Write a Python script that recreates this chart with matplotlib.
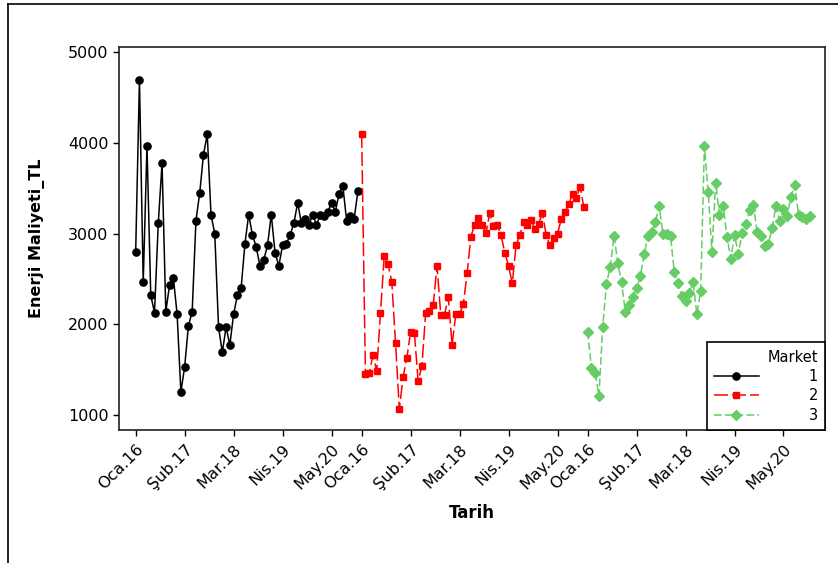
import matplotlib
matplotlib.use("Agg")
import matplotlib.pyplot as plt
from matplotlib.lines import Line2D
import numpy as np

plt.rcParams['font.family'] = ['DejaVu Sans']
plt.rcParams['lines.scale_dashes'] = False

# ---- data ----
market1 = [2802, 4695, 2464, 3967, 2321, 2130, 3115, 3776, 2140, 2435,
           2516, 2112, 1255, 1531, 1983, 2140, 3144, 3449, 3872, 4096,
           3210, 2997, 1968, 1692, 1968, 1773, 2112, 2321, 2402, 2887,
           3210, 2986, 2854, 2644, 2710, 2871, 3210, 2791, 2644, 2871,
           2887, 2986, 3115, 3339, 3115, 3159, 3097, 3210, 3097, 3210,
           3195, 3243, 3339, 3243, 3438, 3530, 3144, 3195, 3162, 3471]
market2 = [4099, 1450, 1461, 1659, 1486, 2130, 2758, 2666, 2468, 1791,
           1064, 1420, 1630, 1920, 1909, 1373, 1545, 2130, 2144, 2218,
           2644, 2104, 2104, 2306, 1773, 2115, 2115, 2225, 2563, 2967,
           3096, 3177, 3096, 3004, 3225, 3085, 3096, 2986, 2791, 2644,
           2453, 2872, 2986, 3133, 3092, 3151, 3048, 3107, 3228, 2982,
           2872, 2949, 2997, 3162, 3243, 3324, 3438, 3394, 3519, 3291]
market3 = [1920, 1516, 1468, 1211, 1975, 2445, 2637, 2978, 2681, 2464,
           2140, 2214, 2306, 2398, 2534, 2773, 2975, 3015, 3133, 3305,
           2997, 2997, 2975, 2582, 2453, 2313, 2262, 2350, 2468, 2111,
           2365, 3967, 3464, 2802, 3563, 3206, 3305, 2967, 2725, 2986,
           2776, 3004, 3107, 3261, 3316, 3023, 2975, 2868, 2887, 3067,
           3305, 3144, 3269, 3195, 3408, 3537, 3206, 3181, 3158, 3195]
markets = ['1', '2', '3']
tick_labels = ['Oca.16', 'Şub.17', 'Mar.18', 'Nis.19', 'May.20']
tick_month_index = [0, 13, 26, 39, 52]

W, H = 838, 563
fig = plt.figure(figsize=(W / 100, H / 100), dpi=100)
ax = fig.add_axes([119.3 / W, 1 - 430 / H, (825.3 - 119.3) / W, (430 - 46.7) / H])

styles = [
    dict(color='black', marker='o', ms=5.2, lw=1.1, ls='-'),
    dict(color='#FF0000', marker='s', ms=5.0, lw=1.1, ls=(0, (10, 3))),
    dict(color='#66CC66', marker='D', ms=5.4, lw=1.1, ls=(0, (5.5, 2.3))),
]
series = [market1, market2, market3]
handles = []
n = len(market1)
for k, (vals, st) in enumerate(zip(series, styles)):
    x = np.arange(len(vals)) + k * n
    h, = ax.plot(x, vals, color=st['color'], marker=st['marker'],
                 markersize=st['ms'], linewidth=st['lw'], linestyle=st['ls'],
                 markeredgecolor=st['color'], markerfacecolor=st['color'])
    handles.append(h)

ticks = []
labels = []
for k in range(3):
    for m, lab in zip(tick_month_index, tick_labels):
        ticks.append(m + k * n)
        labels.append(lab)
ax.set_xticks(ticks)
ax.set_xticklabels(labels, rotation=45, ha='right', va='top',
                   rotation_mode='anchor', fontsize=11.5)
ax.set_xlim(-4.35, 183.1)
ax.set_ylim(835, 5062)
ax.set_yticks([1000, 2000, 3000, 4000, 5000])
ax.tick_params(axis='y', labelsize=11.5, length=4.3, width=1, pad=3.5)
ax.tick_params(axis='x', length=4.3, width=1, pad=4)
for s in ax.spines.values():
    s.set_linewidth(1.2)
    s.set_color('#202020')

ax.set_ylabel('Enerji Maliyeti_TL', fontsize=11.5, fontweight='bold')
ax.yaxis.set_label_coords(-0.105, 0.5)
ax.set_xlabel('Tarih', fontsize=12, fontweight='bold')
ax.xaxis.set_label_coords(0.5, -0.217)
ax.xaxis.label.set_va('center')

leg = ax.legend(handles, markets, title='Market', loc='lower right',
                bbox_to_anchor=(1, 0), borderaxespad=0, frameon=True,
                fancybox=False, edgecolor='black', handlelength=3.1,
                handletextpad=3.4, fontsize=10.5, title_fontsize=10.5,
                borderpad=0.5, labelspacing=0.3, alignment='right')
leg.get_frame().set_linewidth(1.2)
leg.get_frame().set_alpha(1)

# outer frame
fig.add_artist(Line2D([8 / W, 8 / W], [0, 1 - 4.3 / H], transform=fig.transFigure,
                      color='black', lw=1.2))
fig.add_artist(Line2D([8 / W, 1], [1 - 4.3 / H, 1 - 4.3 / H], transform=fig.transFigure,
                      color='black', lw=1.2))

fig.savefig('out.png', dpi=100)
